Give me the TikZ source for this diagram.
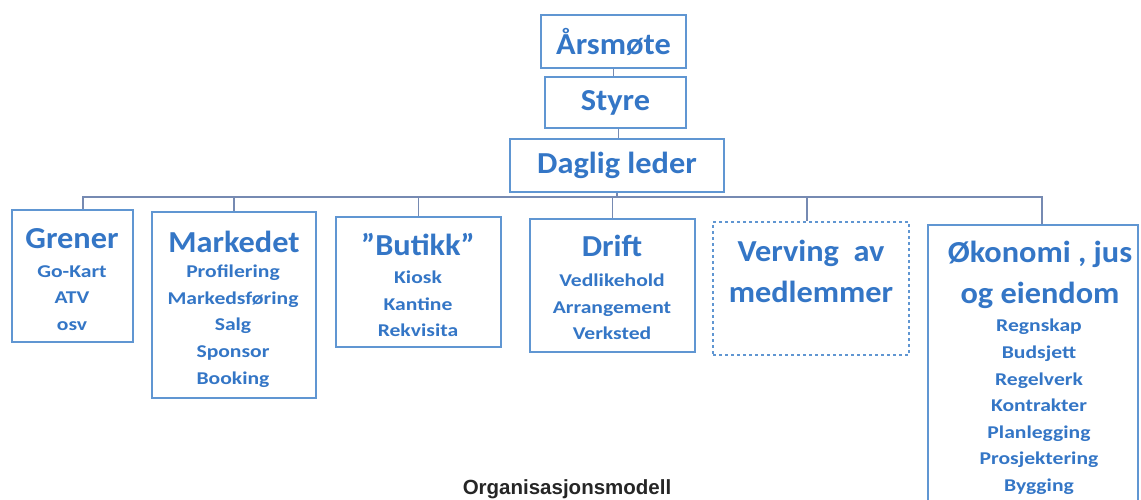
\documentclass[tikz,border=0pt]{standalone}
\usepackage{fontspec}
\setmainfont{Carlito}
\newfontfamily\itemfont[FakeStretch=1.2,BoldFeatures={FakeStretch=1.2}]{Carlito}
\newfontfamily\titlefont[FakeStretch=1.06,BoldFeatures={FakeStretch=1.06}]{Carlito}
\newfontfamily\capfont{Liberation Sans}
\definecolor{txtblue}{RGB}{52,118,198}
\definecolor{boxblue}{RGB}{96,150,210}
\definecolor{linegray}{RGB}{118,138,178}
\begin{document}
\begin{tikzpicture}[x=1pt,y=-1pt,
  box/.style={draw=boxblue,line width=1.8pt,fill=white,inner sep=0pt},
  dbox/.style={draw=boxblue,line width=1.6pt,dash pattern=on 3pt off 3pt,inner sep=0pt},
  conn/.style={draw=linegray,line width=1.8pt},
  title/.style={text=txtblue,font=\titlefont\bfseries\fontsize{30.5}{41}\selectfont,align=center,inner sep=0pt},
  items/.style={text=txtblue,font=\itemfont\bfseries\fontsize{18}{26.6}\selectfont,align=center,inner sep=0pt}]
\useasboundingbox (0,0) rectangle (1141,500);
\fill[white] (0,0) rectangle (1141,500);
\coordinate (bus) at (617,197);
% boxes
\node[box,minimum width=145pt,minimum height=53pt] (aars) at (613.5,41.5) {};
\node[box,minimum width=141pt,minimum height=51pt] (styre) at (615.5,102.5) {};
\node[box,minimum width=214pt,minimum height=53pt] (dl) at (617,165.5) {};
\node[box,minimum width=121pt,minimum height=132pt] (gren) at (72.5,276) {};
\node[box,minimum width=164pt,minimum height=186pt] (mark) at (234,305) {};
\node[box,minimum width=165pt,minimum height=130pt] (but) at (418.5,282) {};
\node[box,minimum width=165pt,minimum height=133pt] (drift) at (612.5,285.5) {};
\node[dbox,minimum width=196pt,minimum height=133pt] (verv) at (811,288.5) {};
\node[box,minimum width=210pt,minimum height=290pt] (oko) at (1033,370) {};
% connectors
\draw[conn] (aars.south) -- (aars.south |- styre.north);
\draw[conn] ([xshift=3pt]styre.south) -- ([xshift=3pt]styre.south |- dl.north);
\draw[conn] (dl.south) -- (bus);
\draw[conn] (bus) -| ([xshift=10.5pt]gren.north);
\draw[conn] (bus) -| (mark.north);
\draw[conn] (bus) -| (but.north);
\draw[conn] (bus) -| (drift.north);
\draw[conn] (bus) -| ([xshift=-4pt]verv.north);
\draw[conn] (bus) -| ([xshift=9pt]oko.north);
% texts
\node[title] (t1) at (aars) {Årsmøte};
\node[title] (t2) at (styre) {Styre};
\node[title] (t3) at (dl) {Daglig leder};
\node[title] (t4) at (72,239) {Grener};
\node[items] (i4) at (72,298) {Go-Kart\\ATV\\osv};
\node[title] (t5) at (234,242) {Markedet};
\node[items] (i5) at (233,326) {Profilering\\Markedsføring\\Salg\\Sponsor\\Booking};
\node[title] (t6) at (418,245) {”Butikk”};
\node[items] (i6) at (418,304) {Kiosk\\Kantine\\Rekvisita};
\node[title] (t7) at (612,246) {Drift};
\node[items] (i7) at (612,307) {Vedlikehold\\Arrangement\\Verksted};
\node[title] (t8) at (811,271) {Verving~ av\\medlemmer};
\node[title] (t9) at (1040,275) {Økonomi , jus\\og eiendom};
\node[items] (i9) at (1039,407) {Regnskap\\Budsjett\\Regelverk\\Kontrakter\\Planlegging\\Prosjektering\\Bygging};
\node[text=black!85,font=\capfont\bfseries\fontsize{20.5}{24}\selectfont,inner sep=0pt] (cap) at (567,489) {Organisasjonsmodell};
\end{tikzpicture}
\end{document}
